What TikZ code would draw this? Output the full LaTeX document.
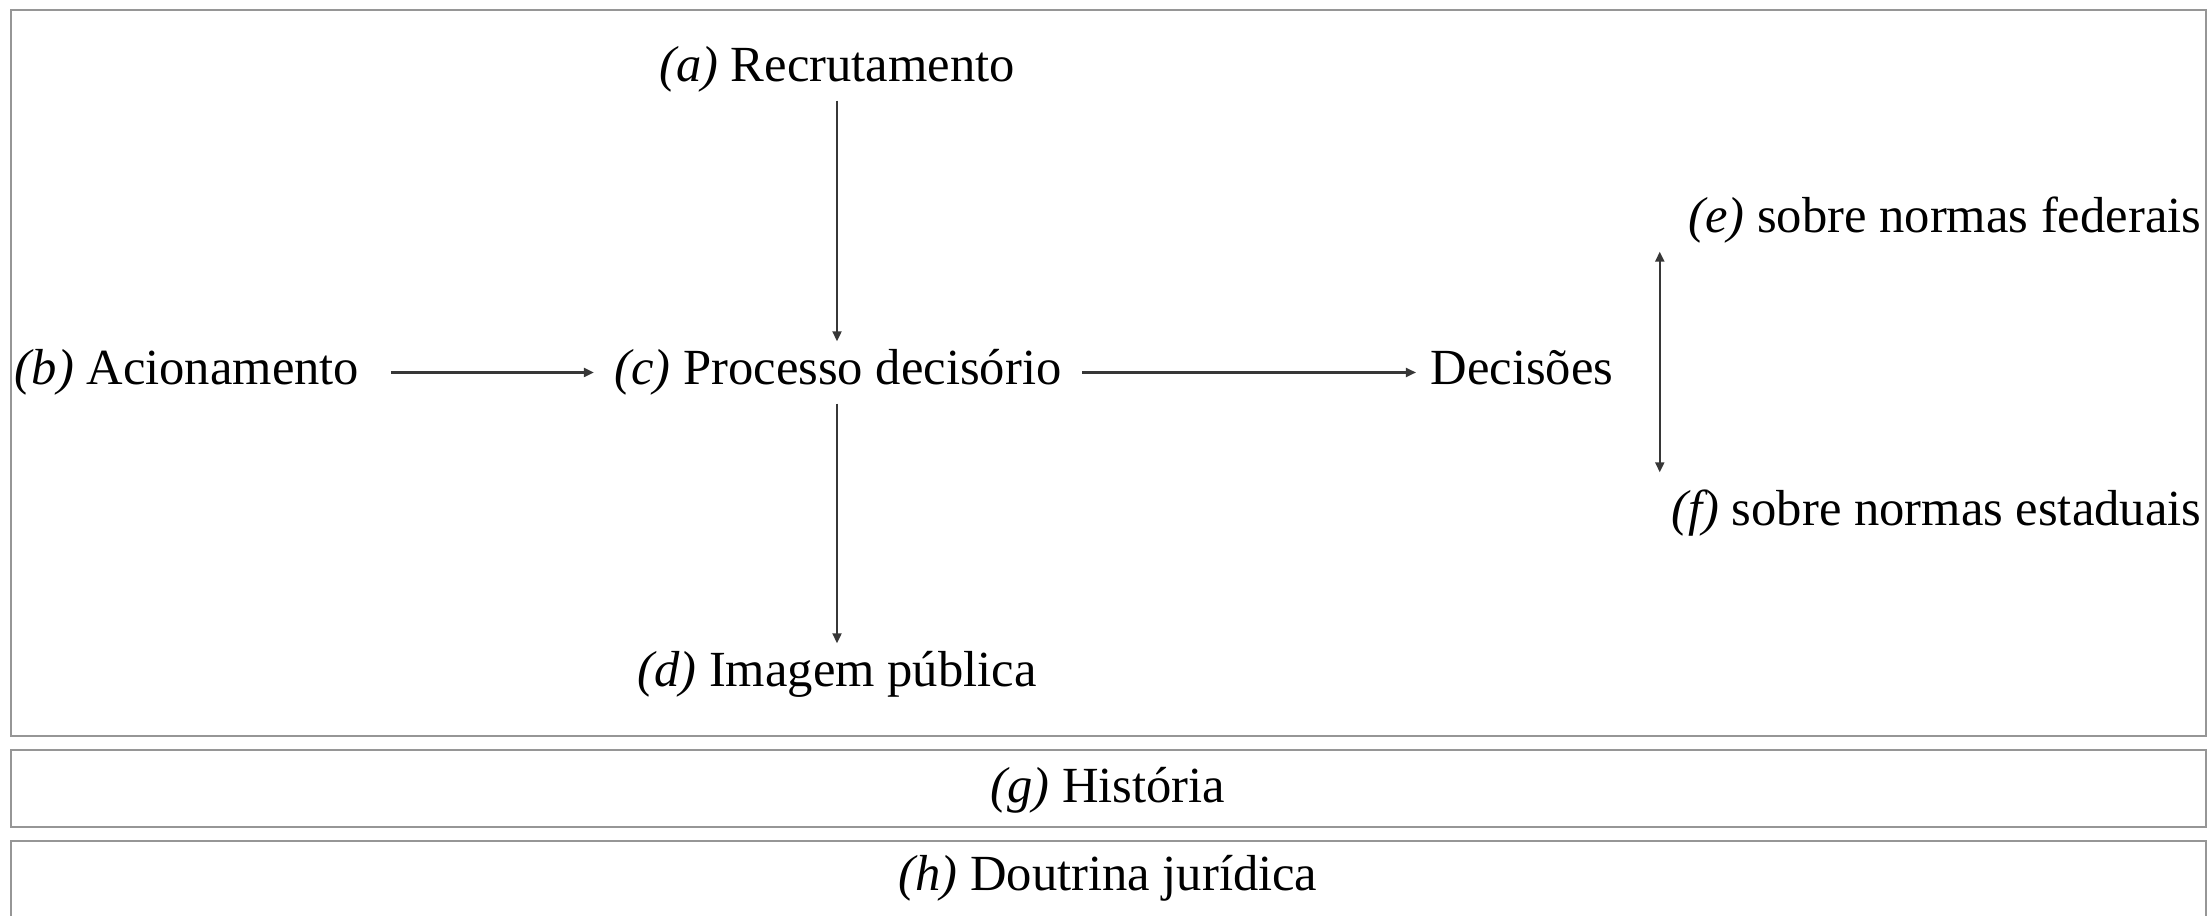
\documentclass[tikz,border=0pt]{standalone}
\usepackage{fontspec}
\setmainfont{Liberation Serif}
\usetikzlibrary{positioning,arrows.meta}
\definecolor{framegray}{RGB}{150,150,150}
\definecolor{arrowgray}{RGB}{55,55,55}

\begin{document}
\begin{tikzpicture}[
    lbl/.style={anchor=base, inner xsep=0pt, inner ysep=0.06cm, text height=0.37cm, text depth=0.12cm, font=\fontsize{14.4pt}{17pt}\selectfont},
    frame/.style={draw=framegray, line width=0.7pt},
    flow/.style={-{Triangle[length=1mm,width=0.9mm]}, draw=arrowgray, line width=0.6pt},
    both/.style={{Triangle[length=1mm,width=0.9mm]}-{Triangle[length=1mm,width=0.9mm]}, draw=arrowgray, line width=0.6pt}
]
\useasboundingbox (0,0) rectangle (22.09,9.15);
\clip (0,0) rectangle (22.09,9.15);

% Frames
\draw[frame] (0.11,9.05) rectangle (22.06,1.79);
\draw[frame] (0.11,1.65) rectangle (22.06,0.88);
\draw[frame] (0.11,-0.2) -- (0.11,0.74) -- (22.06,0.74) -- (22.06,-0.2);

% Main flow
\node[lbl] (rec) at (8.37,8.33) {\textit{(a)} Recrutamento};
\node[lbl] (acio) at (1.87,5.30) {\textit{(b)} Acionamento};
\node[lbl] (proc) at (8.38,5.30) {\textit{(c)} Processo decisório};
\node[lbl] (img) at (8.37,2.28) {\textit{(d)} Imagem pública};
\node[lbl] (dec) at (15.22,5.30) {Decisões};

% Decision targets
\node[lbl, anchor=base east] (fed) at (22.02,6.82) {\textit{(e)} sobre normas federais};
\node[lbl, anchor=base east] (est) at (22.02,3.89) {\textit{(f)} sobre normas estaduais};

% Bands
\node[lbl] (hist) at (11.08,1.13) {\textit{(g)} História};
\node[lbl] (dout) at (11.08,0.25) {\textit{(h)} Doutrina jurídica};

% Arrows
\draw[flow] (rec.south) -- (rec.south |- proc.north);
\draw[flow] (rec.south |- proc.south) -- (rec.south |- img.north);
\draw[flow, shorten <=0.31cm, shorten >=0.2cm] (acio.east) -- (proc.west);
\draw[flow, shorten <=0.2cm, shorten >=0.14cm] (proc.east) -- (dec.west);
\draw[both, shorten >=0.1cm] ([xshift=-0.11cm]est.north west |- fed.south) -- ([xshift=-0.11cm]est.north west);

\end{tikzpicture}
\end{document}
